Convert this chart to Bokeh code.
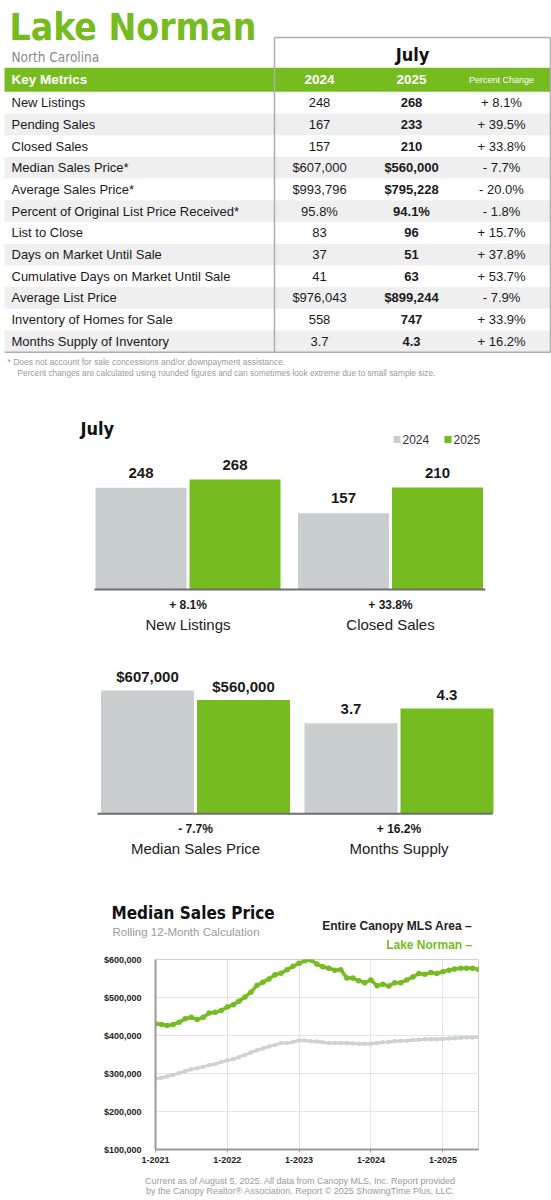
import pandas as pd
from bokeh.plotting import figure
from bokeh.models import (Range1d, FixedTicker, NumeralTickFormatter,
                          CustomJSTickFormatter, ColumnDataSource)
from bokeh.core.properties import value
from bokeh.embed import file_html
from bokeh.resources import INLINE

# ---------------- data ----------------
area_name = "Lake Norman"
state_name = "North Carolina"
month_name = "July"
year_prev, year_curr = "2024", "2025"

metrics = ["New Listings", "Pending Sales", "Closed Sales", "Median Sales Price*",
           "Average Sales Price*", "Percent of Original List Price Received*",
           "List to Close", "Days on Market Until Sale",
           "Cumulative Days on Market Until Sale", "Average List Price",
           "Inventory of Homes for Sale", "Months Supply of Inventory"]
values_2024 = ["248", "167", "157", "$607,000", "$993,796", "95.8%", "83", "37",
               "41", "$976,043", "558", "3.7"]
values_2025 = ["268", "233", "210", "$560,000", "$795,228", "94.1%", "96", "51",
               "63", "$899,244", "747", "4.3"]
pct_change = ["+ 8.1%", "+ 39.5%", "+ 33.8%", "- 7.7%", "- 20.0%", "- 1.8%",
              "+ 15.7%", "+ 37.8%", "+ 53.7%", "- 7.9%", "+ 33.9%", "+ 16.2%"]

footnotes = ["* Does not account for sale concessions and/or downpayment assistance.",
             "Percent changes are calculated using rounded figures and can sometimes look extreme due to small sample size."]

bars1_names = ["New Listings", "Closed Sales"]
bars1_2024 = [248, 157]
bars1_2025 = [268, 210]
bars1_pct = ["+ 8.1%", "+ 33.8%"]

bars2_names = ["Median Sales Price", "Months Supply"]
bars2_2024 = [607000, 3.7]
bars2_2025 = [560000, 4.3]
bars2_pct = ["- 7.7%", "+ 16.2%"]

# rolling 12-month median sales price, Jan 2021 .. Jul 2025
lake_norman = [431000, 429000, 426000, 429000, 435000, 444000, 448000, 442000,
               448000, 459000, 461000, 466000, 475000, 481000, 490000, 501000,
               514000, 532000, 540000, 549000, 560000, 564000, 573000, 582000,
               590000, 597000, 599000, 588000, 581000, 577000, 572000, 573000,
               551000, 551000, 544000, 539000, 546000, 531000, 535000, 530000,
               539000, 539000, 546000, 554000, 563000, 561000, 566000, 563000,
               568000, 572000, 575000, 577000, 577000, 577000, 574000]
canopy_area = [286000, 289000, 292000, 296000, 301000, 306000, 311000, 314000,
               318000, 322000, 325000, 330000, 334000, 338000, 343000, 349000,
               355000, 361000, 366000, 371000, 375000, 380000, 380000, 383000,
               387000, 387000, 385000, 384000, 382000, 380000, 380000, 380000,
               380000, 379000, 378000, 378000, 378000, 380000, 382000, 383000,
               385000, 386000, 386000, 388000, 389000, 390000, 390000, 390000,
               391000, 392000, 393000, 394000, 395000, 395000, 396000]
price_ticks = [100000, 200000, 300000, 400000, 500000, 600000]
year_ticks = ["2021-01-01", "2022-01-01", "2023-01-01", "2024-01-01", "2025-01-01"]

footer_lines = ["Current as of August 5, 2025. All data from Canopy MLS, Inc. Report provided",
                "by the Canopy Realtor\u00ae Association. Report \u00a9 2025 ShowingTime Plus, LLC."]

# ---------------- styling ----------------
W = 551
GREEN = "#76BC21"
BAR_GRAY = "#C9CFCE"
LINE_GRAY = "#CDD3D2"
TEXT = "#1a1a1a"
SANS = "Liberation Sans"
NARROW = "DejaVu Sans Condensed, Liberation Sans"


def canvas(h):
    p = figure(width=W, height=h, x_range=Range1d(0, W), y_range=Range1d(h, 0),
               x_axis_type=None, y_axis_type=None, output_backend="svg",
               toolbar_location=None, min_border=0)
    p.grid.visible = False
    p.outline_line_color = None
    p.background_fill_color = "white"
    p.border_fill_color = "white"
    return p


def txt(p, x, y, s, size, color=TEXT, font=SANS, style="normal",
        align="left", baseline="middle", **kw):
    xs = x if isinstance(x, list) else [x]
    ys = y if isinstance(y, list) else [y]
    ss = s if isinstance(s, list) else [s]
    p.text(x=xs, y=ys, text=ss, text_font=value(font), text_font_size=f"{size}px",
           text_color=color, text_font_style=style, text_align=align,
           text_baseline=baseline, **kw)


# ---------------- header + key metrics table ----------------
H1 = 390
t = canvas(H1)
txt(t, 9, 27, area_name, 37, GREEN, NARROW, "bold")
txt(t, 11, 56.5, state_name, 13.5, "#8a8a8a", NARROW)

row_top0, row_h = 91.3, 21.7
n_rows = len(metrics)
table_bottom = row_top0 + n_rows * row_h
left_edge, right_edge, divider = 4, 550, 274
col_2024, col_2025, col_pct = 319, 411, 501

# banded rows
band_tops = [row_top0 + i * row_h for i in range(n_rows) if i % 2 == 1]
t.quad(left=left_edge, right=right_edge, top=band_tops,
       bottom=[b + row_h for b in band_tops], fill_color="#EFEFEF", line_color=None)
# green header bar
t.quad(left=left_edge, right=right_edge, top=67.3, bottom=row_top0,
       fill_color=GREEN, line_color=None)
# box around the monthly columns
box_c = "#ADADAD"
t.segment(x0=[divider, right_edge, divider, left_edge],
          y0=[37, 37, 37, table_bottom],
          x1=[right_edge, right_edge, divider, right_edge],
          y1=[37, table_bottom, table_bottom, table_bottom],
          line_color=box_c, line_width=1.5)
txt(t, (divider + right_edge) / 2, 53.5, month_name, 18, "#111", NARROW, "bold",
    align="center")

hy = (67.3 + row_top0) / 2
txt(t, 11, hy, "Key Metrics", 13.5, "white", SANS, "bold")
txt(t, [col_2024, col_2025], [hy, hy], [year_prev, year_curr], 13.5, "white",
    SANS, "bold", align="center")
txt(t, col_pct, hy, "Percent Change", 9, "white", SANS, align="center")

row_y = [row_top0 + (i + 0.5) * row_h for i in range(n_rows)]
src = ColumnDataSource(dict(y=row_y, m=metrics, a=values_2024, b=values_2025, c=pct_change))
common = dict(text_font=value(SANS), text_font_size="13px", text_color=TEXT,
              text_baseline="middle")
t.text(x=11, y="y", text="m", source=src, text_align="left", **common)
t.text(x=col_2024, y="y", text="a", source=src, text_align="center", **common)
t.text(x=col_2025, y="y", text="b", source=src, text_align="center",
       text_font_style="bold", **common)
t.text(x=col_pct, y="y", text="c", source=src, text_align="center", **common)

txt(t, 7, 361, footnotes[0], 8.5, "#9a9a9a")
txt(t, 17, 372, footnotes[1], 8.3, "#9a9a9a")


# ---------------- bar charts ----------------
def bar_panel(h, baseline_y, names, prev, curr, pct, tops, centers, offset,
              bar_w, fmt, pct_y, name_y, axis_span, label_gap):
    p = canvas(h)
    for g in range(len(names)):
        rname = f"g{g}"
        top = tops[g]
        p.extra_y_ranges[rname] = Range1d(start=-(h - baseline_y) * top / baseline_y,
                                          end=top)
        xs = [centers[g] - offset, centers[g] + offset]
        vals = [prev[g], curr[g]]
        p.vbar(x=xs, width=bar_w, top=vals, bottom=0,
               fill_color=[BAR_GRAY, GREEN], line_color=None, y_range_name=rname)
        gap = label_gap * top / baseline_y
        p.text(x=xs, y=[v + gap for v in vals], text=[fmt(v) for v in vals],
               text_font=value(SANS), text_font_size="15px", text_font_style="bold",
               text_color=TEXT, text_align="center", text_baseline="middle",
               y_range_name=rname)
        txt(p, centers[g], pct_y, pct[g], 12, TEXT, SANS, "bold", align="center")
        txt(p, centers[g], name_y, names[g], 15, TEXT, SANS, align="center")
    p.segment(x0=axis_span[0], y0=baseline_y, x1=axis_span[1], y1=baseline_y,
              line_color="#6e6e6e", line_width=2)
    return p


b1 = bar_panel(260, 199, bars1_names, bars1_2024, bars1_2025, bars1_pct,
               tops=[485, 410], centers=[187.5, 390], offset=47, bar_w=91,
               fmt=lambda v: f"{v}", pct_y=214, name_y=234, axis_span=(94, 485),
               label_gap=15)
txt(b1, 80, 38, month_name, 18, "#111", NARROW, "bold")
b1.quad(left=[393, 444], right=[400, 451], top=[45.5, 45.5], bottom=[52.5, 52.5],
        fill_color=[BAR_GRAY, GREEN], line_color=None)
txt(b1, [402, 453], [49, 49], [year_prev, year_curr], 12, "#333")

b2 = bar_panel(220, 163.3, bars2_names, bars2_2024, bars2_2025, bars2_pct,
               tops=[804000, 6.67], centers=[195, 398.5], offset=48, bar_w=93,
               fmt=lambda v: f"${v:,.0f}" if v > 1000 else f"{v:.1f}",
               pct_y=178, name_y=198, axis_span=(97, 492), label_gap=14)

# ---------------- line chart title / legend ----------------
lt = canvas(82)
txt(lt, 111, 42.7, "Median Sales Price", 17, "#111", NARROW, "bold")
txt(lt, 112, 61.7, "Rolling 12-Month Calculation", 11.5, "#9a9a9a")
txt(lt, 475, 55, "Entire Canopy MLS Area  \u2013", 12, "#222", SANS, "bold", align="right")
txt(lt, 475, 74.3, f"{area_name}  \u2013", 12, GREEN, SANS, "bold", align="right")

# ---------------- line chart ----------------
months = pd.date_range("2021-01-01", periods=len(lake_norman), freq="MS")
lc = figure(width=W, height=221, x_axis_type="datetime",
            x_range=Range1d(months[0].to_pydatetime(), months[-1].to_pydatetime()),
            y_range=Range1d(price_ticks[0], price_ticks[-1]),
            output_backend="svg", toolbar_location=None,
            min_border_left=155, min_border_right=73, min_border_top=7,
            min_border_bottom=24)
lc.outline_line_color = "#d0d0d0"
lc.background_fill_color = "white"
lc.border_fill_color = "white"

tick_ms = [pd.Timestamp(d).value / 1e6 for d in year_ticks]
lc.xaxis.ticker = FixedTicker(ticks=tick_ms)
lc.xaxis.formatter = CustomJSTickFormatter(
    code="const d = new Date(tick); return (d.getUTCMonth() + 1) + '-' + d.getUTCFullYear();")
lc.yaxis.ticker = FixedTicker(ticks=price_ticks)
lc.yaxis.formatter = NumeralTickFormatter(format="$0,0")
for ax in (lc.xaxis, lc.yaxis):
    ax.axis_line_color = "#9a9a9a"
    ax.axis_line_width = 2
    ax.minor_tick_line_color = None
    ax.major_label_text_font = SANS
    ax.major_label_text_font_size = "9px"
    ax.major_label_text_font_style = "bold"
    ax.major_label_text_color = "#222"
lc.xaxis.major_tick_line_color = "#9a9a9a"
lc.xaxis.major_tick_out = 3
lc.xaxis.major_tick_in = 0
lc.xaxis.major_label_standoff = 4
lc.yaxis.major_tick_line_color = None
lc.yaxis.major_label_standoff = 8
lc.grid.grid_line_color = "#e4e4e4"
lc.grid.grid_line_width = 1

lc.line(months, canopy_area, line_color=LINE_GRAY, line_width=3)
lc.scatter(months, canopy_area, size=4.5, fill_color=LINE_GRAY, line_color=None)
lc.line(months, lake_norman, line_color=GREEN, line_width=3.5)
lc.scatter(months, lake_norman, size=5.5, fill_color=GREEN, line_color=None)

# ---------------- footer ----------------
ft = canvas(27)
txt(ft, [300, 300], [7, 17.7], footer_lines, 9, "#9a9a9a", align="center")

# each panel is its own root so their frames are laid out independently
open("out.html", "w").write(file_html([t, b1, b2, lt, lc, ft], INLINE))
